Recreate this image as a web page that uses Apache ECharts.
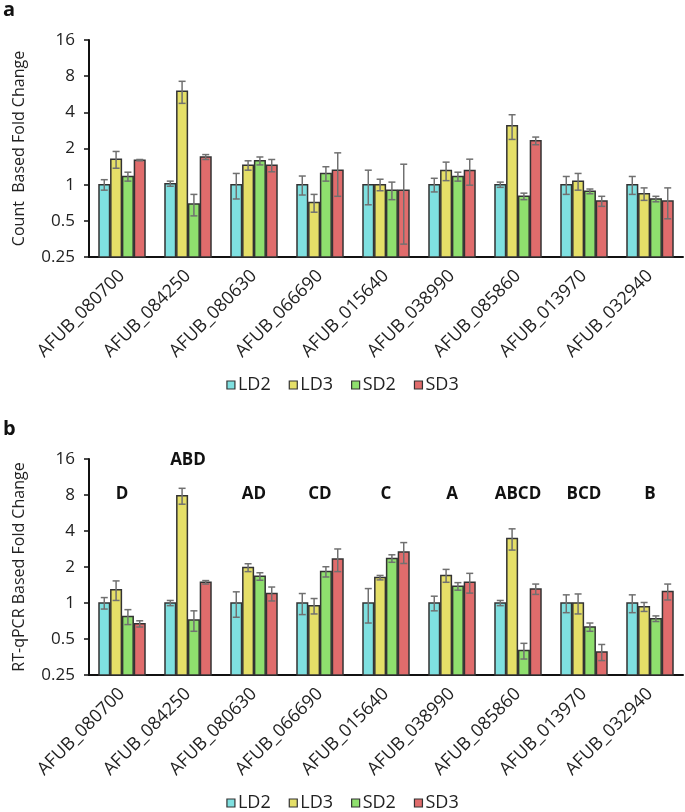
<!DOCTYPE html>
<html>
<head>
<meta charset="utf-8">
<script src="https://cdn.jsdelivr.net/npm/echarts@6/dist/echarts.min.js"></script>
<style>
  html, body { margin: 0; padding: 0; background: #fff; }
  #chart { width: 685px; height: 812px; }
</style>
</head>
<body>
<div id="chart"></div>
<script>
// categories and groups
const genes = ['AFUB_080700', 'AFUB_084250', 'AFUB_080630', 'AFUB_066690', 'AFUB_015640',
               'AFUB_038990', 'AFUB_085860', 'AFUB_013970', 'AFUB_032940'];
const groups = ['LD2', 'LD3', 'SD2', 'SD3'];
const yTicks = [0.25, 0.5, 1, 2, 4, 8, 16];

// panel a - count based fold change (mean, sd)
const countLD2 = [1.0, 1.02, 1.0, 1.0, 1.0, 1.0, 1.0, 1.0, 1.0];
const countLD3 = [1.63, 6.0, 1.45, 0.71, 1.0, 1.31, 3.1, 1.07, 0.84];
const countSD2 = [1.17, 0.69, 1.58, 1.24, 0.90, 1.17, 0.80, 0.88, 0.76];
const countSD3 = [1.6, 1.70, 1.45, 1.32, 0.90, 1.31, 2.32, 0.73, 0.73];
const countLD2Err = [0.10, 0.05, 0.24, 0.18, 0.32, 0.13, 0.05, 0.17, 0.17];
const countLD3Err = [0.26, 1.25, 0.13, 0.12, 0.11, 0.23, 0.72, 0.17, 0.10];
const countSD2Err = [0.10, 0.14, 0.12, 0.17, 0.15, 0.10, 0.05, 0.04, 0.04];
const countSD3Err = [0.02, 0.08, 0.17, 0.52, 0.58, 0.32, 0.17, 0.07, 0.21];

// panel b - RT-qPCR based fold change (mean, sd)
const pcrLD2 = [1.0, 1.0, 1.0, 1.0, 1.0, 1.0, 1.0, 1.0, 1.0];
const pcrLD3 = [1.29, 7.9, 1.98, 0.95, 1.63, 1.70, 3.47, 1.0, 0.93];
const pcrSD2 = [0.77, 0.72, 1.67, 1.83, 2.36, 1.38, 0.40, 0.63, 0.74];
const pcrSD3 = [0.67, 1.49, 1.20, 2.33, 2.67, 1.49, 1.31, 0.39, 1.25];
const pcrLD2Err = [0.11, 0.05, 0.24, 0.20, 0.32, 0.14, 0.05, 0.17, 0.17];
const pcrLD3Err = [0.24, 1.2, 0.15, 0.14, 0.07, 0.21, 0.70, 0.19, 0.08];
const pcrSD2Err = [0.11, 0.14, 0.12, 0.18, 0.17, 0.10, 0.06, 0.05, 0.04];
const pcrSD3Err = [0.04, 0.05, 0.16, 0.50, 0.53, 0.28, 0.13, 0.06, 0.19];

// significance letters above panel b
const letters = ['D', 'ABD', 'AD', 'CD', 'C', 'A', 'ABCD', 'BCD', 'B'];
const letterY = [8.2, 15.6, 8.2, 8.2, 8.2, 8.2, 8.2, 8.2, 8.2];

const colors = ['#7fe0e0', '#e5df68', '#8fdf6e', '#e06c6c'];
const font = '"Open Sans", "Liberation Sans", sans-serif';

const chart = echarts.init(document.getElementById('chart'));

// bar + error bar drawn per group, offset inside the category band
function barRender(s) {
  return function (params, api) {
    const idx = api.value(0);
    const v = api.value(1);
    const e = api.value(2);
    const top = api.coord([idx, v]);
    const band = api.coord([1, 1])[0] - api.coord([0, 1])[0];
    const w = band * 0.16;
    const step = band * 0.179;
    const cx = top[0] + (s - 1.5) * step;
    const base = api.coord([idx, 0.25])[1];
    const hi = api.coord([idx, v + e])[1];
    const lo = api.coord([idx, v - e])[1];
    const cap = 3.5;
    const errStyle = { stroke: '#707070', lineWidth: 1.5 };
    return {
      type: 'group',
      children: [
        { type: 'rect', shape: { x: cx - w / 2, y: top[1], width: w, height: base - top[1] },
          style: { fill: colors[s], stroke: '#333', lineWidth: 1.5 } },
        { type: 'line', shape: { x1: cx, y1: hi, x2: cx, y2: lo }, style: errStyle },
        { type: 'line', shape: { x1: cx - cap, y1: hi, x2: cx + cap, y2: hi }, style: errStyle },
        { type: 'line', shape: { x1: cx - cap, y1: lo, x2: cx + cap, y2: lo }, style: errStyle }
      ]
    };
  };
}

function groupData(vals, errs) {
  return vals.map((v, i) => [i, v, errs[i]]);
}

const countSets = [[countLD2, countLD2Err], [countLD3, countLD3Err], [countSD2, countSD2Err], [countSD3, countSD3Err]];
const pcrSets = [[pcrLD2, pcrLD2Err], [pcrLD3, pcrLD3Err], [pcrSD2, pcrSD2Err], [pcrSD3, pcrSD3Err]];

const grids = [
  { left: 89, top: 40, width: 594, height: 217 },
  { left: 89, top: 459, width: 594, height: 216 }
];

function xAxisFor(gi) {
  return {
    type: 'category', gridIndex: gi, data: genes,
    axisLine: { lineStyle: { color: '#111', width: 2 } },
    axisTick: { show: false },
    axisLabel: { rotate: 45, margin: 16, fontSize: 18, color: '#222', fontFamily: font, interval: 0 }
  };
}

function yAxisFor(gi, name) {
  return {
    type: 'log', logBase: 2, gridIndex: gi, min: yTicks[0], max: yTicks[yTicks.length - 1],
    splitNumber: yTicks.length - 1,
    name: name, nameLocation: 'middle', nameGap: 62,
    nameTextStyle: { fontSize: 16, color: '#222', fontFamily: font },
    axisLine: { show: true, lineStyle: { color: '#111', width: 2 } },
    axisTick: { show: true, length: 5, lineStyle: { color: '#111', width: 1.5 } },
    axisLabel: { fontSize: 17, color: '#222', fontFamily: font, margin: 14,
                 formatter: v => String(+v.toFixed(2)) },
    splitLine: { show: false }
  };
}

const series = [];
groups.forEach((g, s) => {
  series.push({
    name: g, type: 'custom', xAxisIndex: 0, yAxisIndex: 0,
    renderItem: barRender(s), itemStyle: { color: colors[s] },
    encode: { x: 0, y: 1 },
    data: groupData(countSets[s][0], countSets[s][1])
  });
  series.push({
    name: g, type: 'custom', xAxisIndex: 1, yAxisIndex: 1,
    renderItem: barRender(s), itemStyle: { color: colors[s] },
    encode: { x: 0, y: 1 },
    data: groupData(pcrSets[s][0], pcrSets[s][1])
  });
});

series.push({
  type: 'custom', xAxisIndex: 1, yAxisIndex: 1,
  encode: { x: 0, y: 1 },
  data: letterY.map((y, i) => [i, y]),
  renderItem: function (params, api) {
    const p = api.coord([api.value(0), api.value(1)]);
    return {
      type: 'text', x: p[0], y: p[1],
      style: { text: letters[params.dataIndex], align: 'center', verticalAlign: 'middle',
               fill: '#111', font: 'bold 17px ' + font }
    };
  }
});

const legendData = groups.map((g, s) => ({
  name: g, icon: 'rect',
  itemStyle: { color: colors[s], borderColor: '#333', borderWidth: 1.2 }
}));

function legendAt(top) {
  return {
    data: legendData, top: top, left: 'center', itemWidth: 8, itemHeight: 8, itemGap: 18,
    selectedMode: false,
    textStyle: { fontSize: 18, color: '#222', fontFamily: font, padding: [0, 0, 0, -2] }
  };
}

const option = {
  animation: false,
  backgroundColor: '#fff',
  grid: grids,
  xAxis: [xAxisFor(0), xAxisFor(1)],
  yAxis: [yAxisFor(0, 'Count  Based Fold Change'), yAxisFor(1, 'RT-qPCR Based Fold Change')],
  legend: [legendAt(371), legendAt(789)],
  graphic: [
    { type: 'text', left: 3, top: 0, style: { text: 'a', font: 'bold 20px ' + font, fill: '#111' } },
    { type: 'text', left: 3, top: 419, style: { text: 'b', font: 'bold 20px ' + font, fill: '#111' } }
  ],
  series: series
};

chart.setOption(option);
</script>
</body>
</html>
